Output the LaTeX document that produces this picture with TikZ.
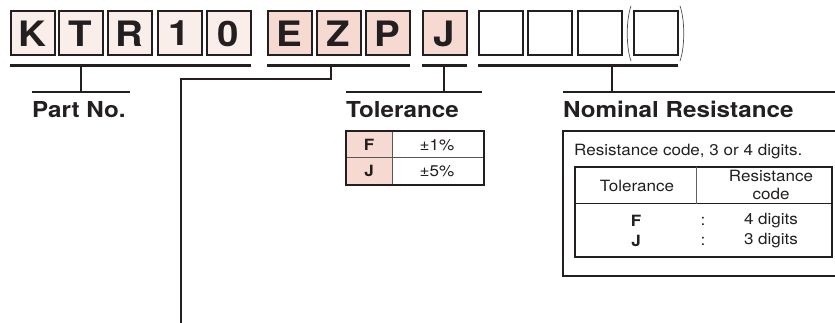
\documentclass[tikz,border=0pt]{standalone}
\usepackage{fontspec}
\setmainfont{TeX Gyre Heros}[FakeStretch=1.1]
\definecolor{ink}{HTML}{231F20}
\definecolor{lightpink}{HTML}{FAEEEA}
\definecolor{midpink}{HTML}{F6DAD1}
\begin{document}
\begin{tikzpicture}[x=1pt,y=-1pt,
  every node/.style={text=ink,inner sep=0pt},
  cbox/.style={draw=ink,line width=2pt,minimum width=44pt,minimum height=44pt,font=\fontsize{35}{35}\selectfont\bfseries},
  pbox/.style={cbox,fill=lightpink},
  rbox/.style={cbox,fill=midpink},
  wbox/.style={cbox,fill=white},
  bar/.style={draw=ink,line width=2.6pt},
  stem/.style={draw=ink,line width=2.4pt},
  title/.style={anchor=base west,font=\fontsize{22}{22}\selectfont\bfseries},
  small/.style={font=\fontsize{15.5}{15.5}\selectfont},
  smallb/.style={font=\fontsize{15.5}{15.5}\selectfont\bfseries},
  mid/.style={font=\fontsize{15.5}{17.5}\selectfont},
  midb/.style={font=\fontsize{15.5}{17.5}\selectfont\bfseries},
]
\useasboundingbox (0,0) rectangle (835,323);
% code boxes
\node[pbox] (bK) at (32.5,33.5) {K};
\node[pbox] (bT) at (80.5,33.5) {T};
\node[pbox] (bR) at (129.5,33.5) {R};
\node[pbox] (b1) at (179.5,33.5) {1};
\node[pbox] (b0) at (228.5,33.5) {0};
\node[rbox] (bE) at (289.5,33.5) {E};
\node[rbox] (bZ) at (338.5,33.5) {Z};
\node[rbox] (bP) at (387.5,33.5) {P};
\node[rbox] (bJ) at (444.5,33.5) {J};
\node[wbox] (n1) at (500.5,33.5) {};
\node[wbox] (n2) at (549.5,33.5) {};
\node[wbox] (n3) at (599.5,33.5) {};
\node[wbox] (n4) at (655.5,33.5) {};
% parentheses
\draw[ink!80,line width=0.7pt] (631,6) .. controls (626,20) and (626,47) .. (631,61);
\draw[ink!80,line width=0.7pt] (680,6) .. controls (685,20) and (685,47) .. (680,61);
% underline bars
\coordinate (u1a) at (10,65.5); \coordinate (u1b) at (251,65.5);
\coordinate (u2a) at (267,65.5); \coordinate (u2b) at (410,65.5);
\coordinate (u3a) at (422,65.5); \coordinate (u3b) at (467,65.5);
\coordinate (u4a) at (478,65.5); \coordinate (u4b) at (678,65.5);
\draw[bar] (u1a) -- (u1b);
\draw[bar] (u2a) -- (u2b);
\draw[bar] (u3a) -- (u3b);
\draw[bar] (u4a) -- (u4b);
% title bars
\coordinate (t1a) at (32,92); \coordinate (t1b) at (130,92);
\coordinate (t3a) at (346,92); \coordinate (t3b) at (482,92);
\coordinate (t4a) at (563,92); \coordinate (t4b) at (840,92);
\draw[bar] (t1a) -- (t1b);
\draw[bar] (t3a) -- (t3b);
\draw[bar] (t4a) -- (t4b);
% stems
\draw[stem] (81,65.5) -- (81,92);
\draw[stem] (444,65.5) -- (444,92);
\draw[stem] (612,65.5) -- (612,92);
\coordinate (s2end) at (181,325);
\draw[stem] (331,65.5) -- (331,79) -- (181,79) -- (s2end);
% titles
\node[title] (tPart) at (32,118) {Part No.};
\node[title] (tTol) at (346,118) {Tolerance};
\node[title] (tNom) at (563,118) {Nominal Resistance};
% tolerance table
\fill[midpink] (346,131) rectangle (392,185);
\draw[ink!75,line width=1pt] (346,158) -- (484,158);
\draw[ink!75,line width=1pt] (392,131) -- (392,185);
\draw[ink,line width=2pt] (346,131) rectangle (484,185);
\node[smallb] (tF) at (369,145) {F};
\node[small] (tF1) at (437,145) {±1\%};
\node[smallb] (tJ) at (369,171) {J};
\node[small] (tJ5) at (437,171) {±5\%};
% nominal resistance box
\draw[ink,line width=2pt] (563,131) rectangle (850,276);
\node[mid,anchor=base west] (rc) at (574,156) {Resistance code, 3 or 4 digits.};
\draw[ink,line width=2pt] (575,167) rectangle (832,257);
\draw[ink,line width=1pt] (575,204) -- (832,204);
\draw[ink!70,line width=0.8pt] (696,167) -- (696,204);
\node[mid] (hTol) at (637,186) {Tolerance};
\node[mid,align=center] (hRes) at (771,185) {Resistance\\code};
\node[midb] (rF) at (636,221) {F};
\node[mid] (rFc) at (703,221) {:};
\node[mid] (rF4) at (771,221) {4 digits};
\node[midb] (rJ) at (636,241) {J};
\node[mid] (rJc) at (703,241) {:};
\node[mid] (rJ3) at (771,241) {3 digits};
\end{tikzpicture}
\end{document}
